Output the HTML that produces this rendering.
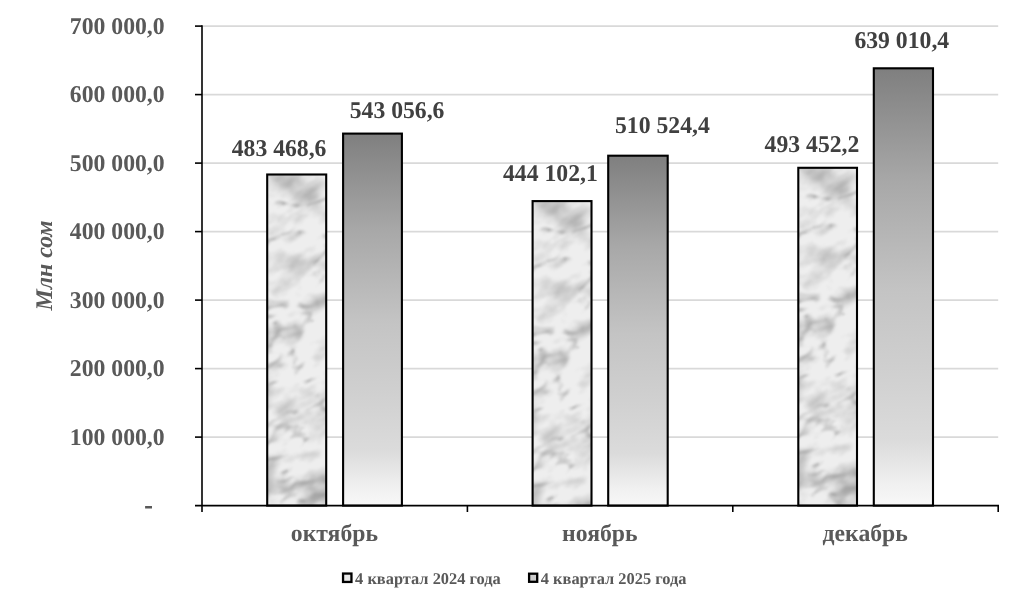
<!DOCTYPE html>
<html><head><meta charset="utf-8">
<style>
html,body{margin:0;padding:0;background:#fff;width:1024px;height:608px;overflow:hidden}
svg{display:block}
text{font-family:"Liberation Serif","DejaVu Serif",serif;font-weight:bold;text-rendering:geometricPrecision}
.yl{fill:#595959;font-size:23.70px}
.dl{fill:#404040;font-size:23.70px}
.xl{fill:#595959;font-size:23.70px}
.lg{fill:#595959;font-size:16.4px}
</style></head>
<body>
<svg width="1024" height="608" viewBox="0 0 1024 608">
<defs>
<linearGradient id="g" x1="0" y1="0" x2="0" y2="1">
<stop offset="0" stop-color="#7f7f7f"/>
<stop offset="0.26" stop-color="#a8a8a8"/>
<stop offset="0.51" stop-color="#c4c4c4"/>
<stop offset="0.70" stop-color="#d0d0d0"/>
<stop offset="0.85" stop-color="#dbdbdb"/>
<stop offset="0.95" stop-color="#f0f0f0"/>
<stop offset="1" stop-color="#f8f8f8"/>
</linearGradient>
<filter id="marble" x="0" y="0" width="100%" height="100%" filterUnits="objectBoundingBox" color-interpolation-filters="sRGB">
<feTurbulence type="fractalNoise" baseFrequency="0.022 0.045" numOctaves="4" seed="33" result="n"/>
<feColorMatrix in="n" type="matrix" values="0 0 0 0 0  0 0 0 0 0  0 0 0 0 0  -2.6 0 0 0 1.4" result="a"/>
<feFlood flood-color="#b4b4b4" result="c"/>
<feComposite in="c" in2="a" operator="in" result="v"/>
<feTurbulence type="turbulence" baseFrequency="0.015 0.03" numOctaves="3" seed="12" result="t"/>
<feColorMatrix in="t" type="matrix" values="0 0 0 0 0  0 0 0 0 0  0 0 0 0 0  -6 0 0 0 0.95" result="ta"/>
<feFlood flood-color="#8f8f8f" flood-opacity="0.7" result="tc"/>
<feComposite in="tc" in2="ta" operator="in" result="tv"/>
<feFlood flood-color="#eeeeee" result="bg"/>
<feMerge><feMergeNode in="bg"/><feMergeNode in="v"/><feMergeNode in="tv"/></feMerge>
<feGaussianBlur stdDeviation="0.8"/>
<feComposite in2="SourceGraphic" operator="in"/>
</filter>
</defs>

<g stroke="#d9d9d9" stroke-width="1.8">
<line x1="202.0" y1="437.10" x2="998.2" y2="437.10"/>
<line x1="202.0" y1="368.60" x2="998.2" y2="368.60"/>
<line x1="202.0" y1="300.10" x2="998.2" y2="300.10"/>
<line x1="202.0" y1="231.60" x2="998.2" y2="231.60"/>
<line x1="202.0" y1="163.10" x2="998.2" y2="163.10"/>
<line x1="202.0" y1="94.60" x2="998.2" y2="94.60"/>
<line x1="202.0" y1="26.10" x2="998.2" y2="26.10"/>
</g>
<clipPath id="cm1"><rect x="267.20" y="174.50" width="59.00" height="331.10"/></clipPath>
<g clip-path="url(#cm1)"><g transform="translate(267.20 174.50) rotate(-30)"><rect x="-250" y="-60" width="500" height="500" filter="url(#marble)"/></g></g>
<rect x="267.20" y="174.50" width="59.00" height="331.10" fill="none" stroke="#000" stroke-width="2.1"/>
<rect x="343.10" y="133.60" width="58.80" height="372.00" fill="url(#g)" stroke="#000" stroke-width="2.1"/>
<clipPath id="cm2"><rect x="532.60" y="201.10" width="58.90" height="304.50"/></clipPath>
<g clip-path="url(#cm2)"><g transform="translate(532.60 201.10) rotate(-30)"><rect x="-250" y="-60" width="500" height="500" filter="url(#marble)"/></g></g>
<rect x="532.60" y="201.10" width="58.90" height="304.50" fill="none" stroke="#000" stroke-width="2.1"/>
<rect x="608.20" y="155.70" width="59.50" height="349.90" fill="url(#g)" stroke="#000" stroke-width="2.1"/>
<clipPath id="cm3"><rect x="798.30" y="167.80" width="58.70" height="337.80"/></clipPath>
<g clip-path="url(#cm3)"><g transform="translate(798.30 167.80) rotate(-30)"><rect x="-250" y="-60" width="500" height="500" filter="url(#marble)"/></g></g>
<rect x="798.30" y="167.80" width="58.70" height="337.80" fill="none" stroke="#000" stroke-width="2.1"/>
<rect x="873.80" y="68.30" width="59.20" height="437.30" fill="url(#g)" stroke="#000" stroke-width="2.1"/>
<g stroke="#000" stroke-width="1.6" fill="none">
<line x1="202.0" y1="25.30" x2="202.0" y2="512"/>
<line x1="195" y1="505.6" x2="999.00" y2="505.6"/>
<line x1="195" y1="437.10" x2="202.0" y2="437.10"/>
<line x1="195" y1="368.60" x2="202.0" y2="368.60"/>
<line x1="195" y1="300.10" x2="202.0" y2="300.10"/>
<line x1="195" y1="231.60" x2="202.0" y2="231.60"/>
<line x1="195" y1="163.10" x2="202.0" y2="163.10"/>
<line x1="195" y1="94.60" x2="202.0" y2="94.60"/>
<line x1="195" y1="26.10" x2="202.0" y2="26.10"/>
<line x1="467.40" y1="505.6" x2="467.40" y2="512"/>
<line x1="732.80" y1="505.6" x2="732.80" y2="512"/>
<line x1="998.20" y1="505.6" x2="998.20" y2="512"/>
</g>
<text class="yl" text-anchor="end" transform="translate(164.6 444.60) scale(1 1.015)">100 000,0</text>
<text class="yl" text-anchor="end" transform="translate(164.6 376.10) scale(1 1.015)">200 000,0</text>
<text class="yl" text-anchor="end" transform="translate(164.6 307.60) scale(1 1.015)">300 000,0</text>
<text class="yl" text-anchor="end" transform="translate(164.6 239.10) scale(1 1.015)">400 000,0</text>
<text class="yl" text-anchor="end" transform="translate(164.6 170.60) scale(1 1.015)">500 000,0</text>
<text class="yl" text-anchor="end" transform="translate(164.6 102.10) scale(1 1.015)">600 000,0</text>
<text class="yl" text-anchor="end" transform="translate(164.6 33.60) scale(1 1.015)">700 000,0</text>
<rect x="145.1" y="506" width="6.9" height="2.5" fill="#595959"/>
<text class="yl" style="font-style:italic;font-size:23.9px" transform="translate(51.8 310.6) rotate(-90) scale(1 1.0)">Млн сом</text>
<text class="dl" transform="translate(231.70 156.40) scale(1 1.015)">483 468,6</text>
<text class="dl" transform="translate(349.70 118.20) scale(1 1.015)">543 056,6</text>
<text class="dl" transform="translate(503.00 180.90) scale(1 1.015)">444 102,1</text>
<text class="dl" transform="translate(615.00 133.10) scale(1 1.015)">510 524,4</text>
<text class="dl" transform="translate(764.60 151.70) scale(1 1.015)">493 452,2</text>
<text class="dl" transform="translate(854.40 47.80) scale(1 1.015)">639 010,4</text>
<text class="xl" text-anchor="middle" transform="translate(334.40 541.3) scale(1 1.015)">октябрь</text>
<text class="xl" text-anchor="middle" transform="translate(599.80 541.3) scale(1 1.015)">ноябрь</text>
<text class="xl" text-anchor="middle" transform="translate(865.20 541.3) scale(1 1.015)">декабрь</text>
<rect x="343.05" y="573.55" width="8.4" height="8.4" fill="#e9e9e9" stroke="#000" stroke-width="2.3"/>
<text class="lg" x="355.1" y="583.7">4 квартал 2024 года</text>
<rect x="529.1" y="573.7" width="8.1" height="8.1" fill="#cdcdcd" stroke="#000" stroke-width="2.3"/>
<text class="lg" x="540.8" y="583.7">4 квартал 2025 года</text>
</svg>
</body></html>
